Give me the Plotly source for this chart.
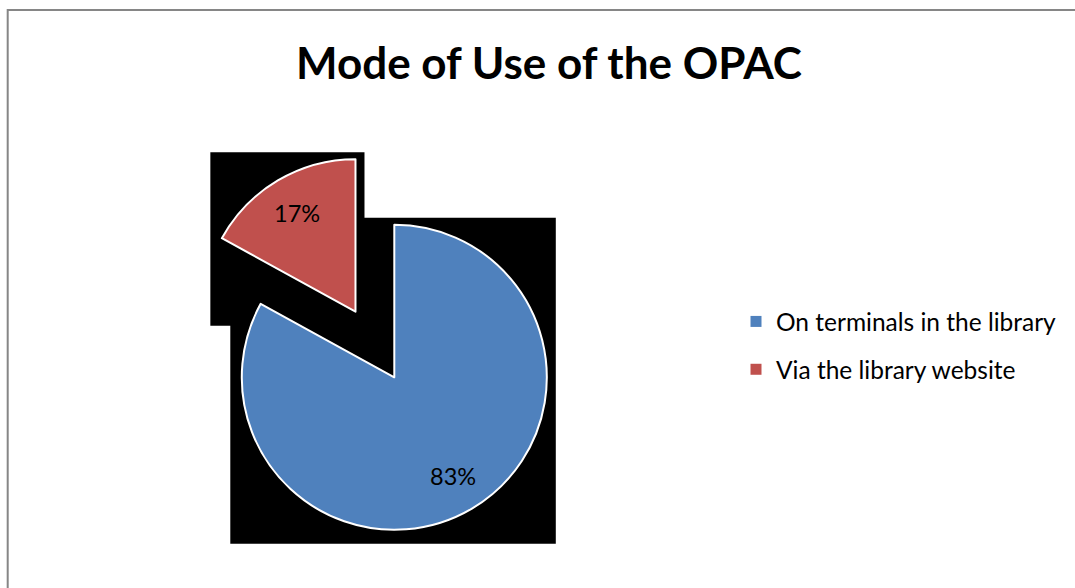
import math
import plotly.graph_objects as go

# Survey results: how the OPAC is used
labels = ["On terminals in the library", "Via the library website"]
values = [83, 17]
colors = ["#4F81BD", "#C0504D"]
pull = [0.0, 0.5]

title_text = "Mode of Use of the OPAC"

W, H = 1075, 588
R = 152.5                 # pie radius in px
CX, CY = 394.3, 377.3     # centre of the unexploded pie in px
FONT = "Lato"

total = sum(values)


def px_to_paper_x(x):
    return x / W


def px_to_paper_y(y):
    return 1 - y / H


fig = go.Figure()

# angular extent of each slice (degrees, clockwise from 12 o'clock)
slices = []
cum = 0.0
for v in values:
    a0 = 360.0 * cum / total
    cum += v
    a1 = 360.0 * cum / total
    slices.append((a0, a1))

shapes = []
annotations = []

for i, (lab, v) in enumerate(zip(labels, values)):
    a0, a1 = slices[i]
    mid = math.radians((a0 + a1) / 2)
    dx, dy = math.sin(mid), -math.cos(mid)
    cx = CX + pull[i] * R * dx
    cy = CY + pull[i] * R * dy

    # each slice is drawn by its own pie, offset along its bisector
    fig.add_trace(go.Pie(
        labels=labels,
        values=values,
        sort=False,
        direction="clockwise",
        rotation=0,
        marker=dict(
            colors=[c if j == i else "rgba(0,0,0,0)" for j, c in enumerate(colors)],
            line=dict(
                color=["#FFFFFF" if j == i else "rgba(0,0,0,0)" for j in range(len(values))],
                width=2,
            ),
        ),
        textinfo="none",
        hoverinfo="label+percent",
        showlegend=False,
        domain=dict(
            x=[px_to_paper_x(cx - R), px_to_paper_x(cx + R)],
            y=[px_to_paper_y(cy + R), px_to_paper_y(cy - R)],
        ),
    ))

    # dark backing panel around the slice's bounding box
    pts = [(cx, cy)]
    for a in [a0, a1] + [k * 90 for k in range(5) if a0 <= k * 90 <= a1]:
        r = math.radians(a)
        pts.append((cx + R * math.sin(r), cy - R * math.cos(r)))
    xs = [p[0] for p in pts]
    ys = [p[1] for p in pts]
    shapes.append(dict(
        type="rect", xref="paper", yref="paper", layer="below",
        x0=px_to_paper_x(min(xs) - 11.5), x1=px_to_paper_x(max(xs) + 9),
        y0=px_to_paper_y(max(ys) + 14), y1=px_to_paper_y(min(ys) - 7),
        fillcolor="#000000", line=dict(width=0),
    ))

    # percentage label inside the slice
    tr = 0.75 * R
    annotations.append(dict(
        x=px_to_paper_x(cx + tr * dx), y=px_to_paper_y(cy + tr * dy),
        xref="paper", yref="paper", showarrow=False,
        text=f"{v / total:.0%}",
        font=dict(family=FONT, size=23.5, color="#000000"),
        xanchor="center", yanchor="middle",
    ))

# legend entries
for lab, c in zip(labels, colors):
    fig.add_trace(go.Scatter(
        x=[None], y=[None], mode="markers", name=lab,
        marker=dict(symbol="square", size=11, color=c),
        legendgroup=lab, showlegend=True, hoverinfo="skip",
    ))

# chart border
shapes.append(dict(
    type="rect", xref="paper", yref="paper", layer="above",
    x0=px_to_paper_x(7.7), x1=1.05,
    y0=-0.05, y1=px_to_paper_y(10),
    line=dict(color="#868686", width=2), fillcolor="rgba(0,0,0,0)",
))

annotations.append(dict(
    x=px_to_paper_x(548.5), y=px_to_paper_y(62),
    xref="paper", yref="paper", showarrow=False,
    text=f"<b>{title_text}</b>",
    font=dict(family=FONT, size=44, color="#000000"),
    xanchor="center", yanchor="middle",
))

fig.update_layout(
    width=W, height=H,
    margin=dict(l=0, r=0, t=0, b=0),
    paper_bgcolor="#FFFFFF",
    plot_bgcolor="rgba(0,0,0,0)",
    xaxis=dict(visible=False),
    yaxis=dict(visible=False),
    shapes=shapes,
    annotations=annotations,
    legend=dict(
        x=px_to_paper_x(736), y=px_to_paper_y(299),
        xanchor="left", yanchor="top",
        font=dict(family=FONT, size=24.5, color="#000000"),
        tracegroupgap=13,
        bgcolor="rgba(0,0,0,0)",
    ),
)

fig.write_html("out.html")
